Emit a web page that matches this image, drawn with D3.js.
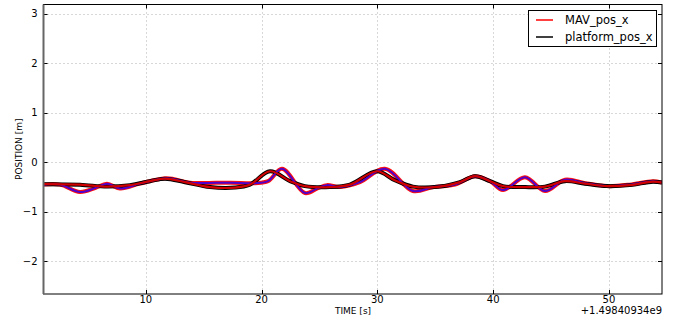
<!DOCTYPE html>
<html><head><meta charset="utf-8">
<script src="https://cdn.jsdelivr.net/npm/d3@7"></script>
<style>body{margin:0;background:#fff}svg{display:block;font-family:"DejaVu Sans",sans-serif}</style>
</head><body><svg id="c" width="678" height="321"></svg>
<script>
const seriesNames = ["MAV_pos_x", "platform_pos_x"];
const mavT = [1.17,2.6,4.32,5.62,6.65,7.78,9.5,11.83,13.82,17.28,19.44,20.56,21.77,23.75,24.87,25.65,26.77,28.5,30.65,33.07,34.8,36.7,38.43,39.73,40.85,42.75,44.48,46.2,47.93,49.83,51.8,53.8,54.58];
const mavV = [-0.45,-0.45,-0.6,-0.52,-0.43,-0.53,-0.43,-0.32,-0.41,-0.41,-0.42,-0.38,-0.13,-0.62,-0.52,-0.46,-0.5,-0.4,-0.13,-0.58,-0.5,-0.45,-0.28,-0.38,-0.56,-0.3,-0.58,-0.35,-0.42,-0.48,-0.45,-0.38,-0.41];
const platT = [1.17,4.32,6.65,8.64,10.37,11.66,13.39,15.55,17.7,19.0,20.73,22.46,23.75,25.9,27.63,29.96,31.5,33.07,35.4,37.13,38.43,39.73,40.85,42.75,44.48,46.2,47.93,49.83,51.8,53.8,54.58];
const platV = [-0.44,-0.45,-0.49,-0.46,-0.38,-0.33,-0.4,-0.5,-0.51,-0.45,-0.18,-0.38,-0.48,-0.5,-0.45,-0.18,-0.36,-0.49,-0.49,-0.4,-0.28,-0.38,-0.48,-0.5,-0.49,-0.38,-0.43,-0.48,-0.46,-0.39,-0.41];
const xTicks = [10,20,30,40,50];
const yTicks = [-2,-1,0,1,2,3];
const xDomain = [1.17, 54.58];
const yDomain = [-2.66, 3.19];

const svg = d3.select("#c");
const L = 43.5, R = 662, T = 4.5, B = 294;
const x = d3.scaleLinear().domain(xDomain).range([L, R]);
const y = d3.scaleLinear().domain(yDomain).range([B, T]);

// grid
const g = svg.append("g");
g.selectAll(".gx").data(xTicks).join("line")
  .attr("x1", d => Math.round(x(d)) + 0.5).attr("x2", d => Math.round(x(d)) + 0.5)
  .attr("y1", T).attr("y2", B).attr("stroke", "#b0b0b0").attr("stroke-dasharray", "1,3");
g.selectAll(".gy").data(yTicks).join("line")
  .attr("y1", d => Math.round(y(d)) + 0.5).attr("y2", d => Math.round(y(d)) + 0.5)
  .attr("x1", L).attr("x2", R).attr("stroke", "#b0b0b0").attr("stroke-dasharray", "1,3");

// lines
const mav = mavT.map((t, i) => [t, mavV[i]]);
const plat = platT.map((t, i) => [t, platV[i]]);
const line = d3.line().x(d => x(d[0])).y(d => y(d[1])).curve(d3.curveCatmullRom.alpha(0.5));
svg.append("clipPath").attr("id", "cp").append("rect")
  .attr("x", L).attr("y", T).attr("width", R - L).attr("height", B - T);
const pg = svg.append("g").attr("clip-path", "url(#cp)");
pg.append("path").attr("d", line(mav)).attr("fill", "none").attr("stroke", "#ff1010").attr("stroke-width", 4);
pg.append("path").attr("d", line(plat)).attr("fill", "none").attr("stroke", "#000000").attr("stroke-width", 4);
pg.append("path").attr("d", line(mav)).attr("fill", "none").attr("stroke", "#5000c8").attr("stroke-width", 2);
pg.append("path").attr("d", line(plat)).attr("fill", "none").attr("stroke", "#d00000").attr("stroke-width", 2.2);

// ticks (inside, all sides)
const tk = svg.append("g").attr("stroke", "#000").attr("stroke-width", 1);
xTicks.forEach(d => {
  const xx = Math.round(x(d)) + 0.5;
  tk.append("line").attr("x1", xx).attr("x2", xx).attr("y1", B).attr("y2", B - 4);
  tk.append("line").attr("x1", xx).attr("x2", xx).attr("y1", T).attr("y2", T + 4);
});
yTicks.forEach(d => {
  const yy = Math.round(y(d)) + 0.5;
  tk.append("line").attr("y1", yy).attr("y2", yy).attr("x1", L).attr("x2", L + 4);
  tk.append("line").attr("y1", yy).attr("y2", yy).attr("x1", R).attr("x2", R - 4);
});

// frame
svg.append("rect").attr("x", L).attr("y", T).attr("width", R - L).attr("height", B - T)
  .attr("fill", "none").attr("stroke", "#000").attr("stroke-width", 1);
svg.append("line").attr("x1", L).attr("x2", L).attr("y1", T).attr("y2", B).attr("stroke", "#666").attr("stroke-width", 2);

// tick labels
const fmt = d => d < 0 ? "\u2212" + Math.abs(d) : String(d);
svg.selectAll(".xl").data(xTicks).join("text")
  .attr("x", d => x(d)).attr("y", 303).attr("text-anchor", "middle")
  .attr("font-size", 10).text(d => d);
svg.selectAll(".yl").data(yTicks).join("text")
  .attr("x", L - 6).attr("y", d => y(d) + 3.5).attr("text-anchor", "end")
  .attr("font-size", 10).text(fmt);

svg.append("text").attr("x", 353).attr("y", 314).attr("text-anchor", "middle").attr("font-size", 9).text("TIME [s]");
svg.append("text").attr("x", R).attr("y", 314).attr("text-anchor", "end").attr("font-size", 10).text("+1.49840934e9");
svg.append("text").attr("transform", "translate(22," + ((T + B) / 2) + ") rotate(-90)")
  .attr("text-anchor", "middle").attr("font-size", 9).text("POSITION [m]");

// legend
const lg = svg.append("g");
lg.append("rect").attr("x", 528.5).attr("y", 10.5).attr("width", 128).attr("height", 36)
  .attr("fill", "#fff").attr("stroke", "#000").attr("stroke-width", 1);
const lcol = ["#ff0000", "#000000"];
seriesNames.forEach((n, i) => {
  const yy = 20 + i * 17;
  lg.append("line").attr("x1", 536).attr("x2", 553).attr("y1", yy).attr("y2", yy)
    .attr("stroke", lcol[i]).attr("stroke-width", 1.5);
  lg.append("text").attr("x", 565).attr("y", yy + 4).attr("font-size", 11.5).text(n);
});
</script></body></html>
